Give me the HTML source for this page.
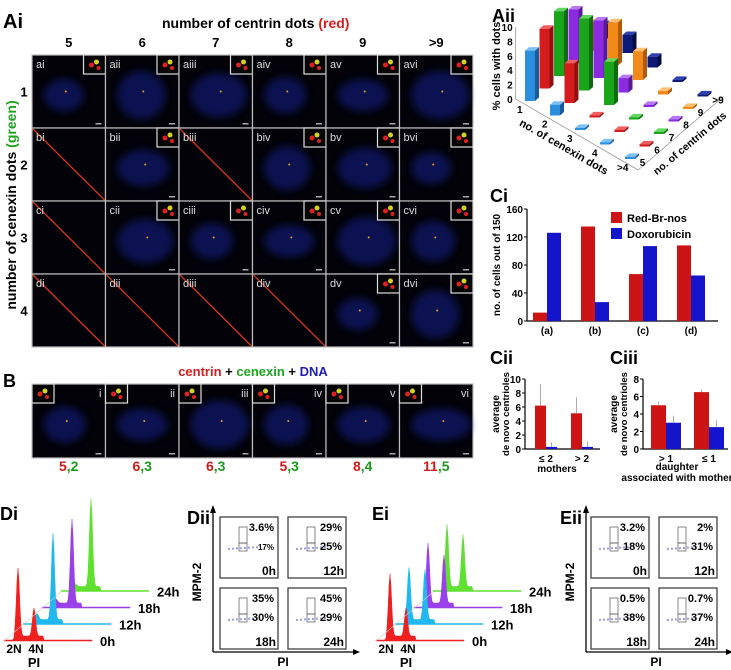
<!DOCTYPE html>
<html><head><meta charset="utf-8"><style>
html,body{margin:0;padding:0;background:#fff;}
svg{display:block;font-family:"Liberation Sans",Arial,sans-serif;}
</style></head><body>
<svg id="fig" width="731" height="670" viewBox="0 0 731 670" xmlns="http://www.w3.org/2000/svg">
<defs>
<filter id="blur" x="-40%" y="-40%" width="180%" height="180%"><feGaussianBlur stdDeviation="4"/></filter>
</defs>
<g id="gridA">
<text x="3" y="28" font-size="20" font-weight="bold">Ai</text>
<text x="162" y="28" font-size="14" font-weight="bold">number of centrin dots <tspan fill="#d71d1d">(red)</tspan></text>
<text transform="translate(16,205) rotate(-90)" text-anchor="middle" font-size="14" font-weight="bold">number of cenexin dots <tspan fill="#1fa31f">(green)</tspan></text>
</g>
<g id="gridB">
<text x="3" y="387" font-size="18" font-weight="bold">B</text>
<text x="253" y="376" text-anchor="middle" font-size="13" font-weight="bold"><tspan fill="#d71d1d">centrin</tspan> + <tspan fill="#1fa31f">cenexin</tspan> + <tspan fill="#1f1fb8">DNA</tspan></text>
</g>
<g id="aii">
<text x="492" y="22" font-size="18" font-weight="bold">Aii</text>
</g>
<g id="ci"></g>
<g id="cii"></g>
<g id="ciii"></g>
<g id="di"></g>
<g id="dii"></g>
<g id="ei"></g>
<g id="eii"></g>
</svg>
<script>
// ---- data ----
const centrinCats = ['5','6','7','8','9','>9'];
const cenexinCats = ['1','2','3','4'];
const emptyCells = ['bi','biii','ci','di','dii','diii','div'];
const bLabelsRed = ['5','6','6','5','8','11'];
const bLabelsGreen = ['2','3','3','3','4','5'];
const aiiCenexin = ['1','2','3','4','>4'];
const aiiCentrin = ['5','6','7','8','9','>9'];
const aiiRow1 = [7, 8.3, 9, 7.5, 4, 2];
const aiiRow2 = [1.5, 5.5, 10, 8, 6, 2.5];
const aiiRow3 = [0.3, 0.3, 6, 2, 4, 1.5];
const aiiRow4 = [0.3, 0.3, 0.3, 0.3, 0.5, 0.3];
const aiiRow5 = [0.3, 0.3, 0.3, 0.3, 0.3, 0.3];
const ciCats = ['(a)','(b)','(c)','(d)'];
const ciRed = [12, 135, 67, 108];
const ciBlue = [126, 27, 107, 65];
const ciTicks = [0, 40, 80, 120, 160];
const ciiCats = ['≤ 2','> 2'];
const ciiRed = [6.2, 5.1];
const ciiRedErr = [3.1, 2.3];
const ciiBlue = [0.3, 0.3];
const ciiBlueErr = [0.7, 0.8];
const ciiTicks = [0, 2, 4, 6, 8, 10];
const ciiiCats = ['> 1','≤ 1'];
const ciiiRed = [5.0, 6.5];
const ciiiRedErr = [0.4, 0.3];
const ciiiBlue = [3.0, 2.5];
const ciiiBlueErr = [0.8, 0.8];
const ciiiTicks = [0, 2, 4, 6, 8];
const timeLabels = ['0h','12h','18h','24h'];
const dG1 = [68, 6, 4, 3];
const dG2 = [28, 86, 84, 88];
const eG1 = [62, 52, 60, 62];
const eG2 = [28, 50, 48, 52];
const diiTop = ['3.6%','29%','35%','45%'];
const diiBot = ['17%','25%','30%','29%'];
const eiiTop = ['3.2%','2%','0.5%','0.7%'];
const eiiBot = ['18%','31%','38%','37%'];

const NS='http://www.w3.org/2000/svg';
function mk(parent,tag,attrs,text){const e=document.createElementNS(NS,tag);for(const k in attrs)e.setAttribute(k,attrs[k]);if(text!==undefined)e.textContent=text;parent.appendChild(e);return e;}

// ---- Ai grid ----
const gA=document.getElementById('gridA');
const roman=['i','ii','iii','iv','v','vi'];
const rowL=['a','b','c','d'];
const CW=73.5, CH=73, GX=32, GY=55;
centrinCats.forEach((c,j)=>{
  const t=mk(gA,'text',{x:GX+CW*j+CW/2,y:47,'text-anchor':'middle','font-size':13,'font-weight':'bold'},c);
  
  
});
cenexinCats.forEach((c,i)=>{
  const t=mk(gA,'text',{x:24,y:GY+CH*i+CH/2+5,'text-anchor':'middle','font-size':13,'font-weight':'bold'},c);
  
  
});
function cell(parent,x,y,w,h,label,empty,seed,inB){
  const g=mk(parent,'g',{});
  
  
  mk(g,'rect',{x:x,y:y,width:w,height:h,fill:'#020208',stroke:'#bdbdbd','stroke-width':1.2});
  if(empty){
    mk(g,'line',{x1:x+1,y1:y+1,x2:x+w-1,y2:y+h-1,stroke:'#d8341c','stroke-width':1.3});
  } else {
    const r=(seed*37)%11;
    mk(g,'ellipse',{cx:x+w*0.5+r-5,cy:y+h*0.55,rx:20+r,ry:16+(r%5)*2,fill:'#18209a',opacity:0.5,filter:'url(#blur)'});
    mk(g,'circle',{cx:x+w*0.5+r-3,cy:y+h*0.5,r:1,fill:'#e8a020'});
    const ix=inB?x:x+w-22, iy=y;
    mk(g,'rect',{x:ix,y:iy,width:22,height:19,fill:'#050505',stroke:'#ddd','stroke-width':1.2});
    mk(g,'circle',{cx:ix+8,cy:iy+10,r:2.5,fill:'#e02020'});
    mk(g,'circle',{cx:ix+13,cy:iy+7,r:2.5,fill:'#d8d020'});
    mk(g,'circle',{cx:ix+15,cy:iy+13,r:2,fill:'#e02020'});
    mk(g,'rect',{x:x+w-10,y:y+h-5,width:6,height:1.5,fill:'#aaa'});
  }
  mk(g,'text',{x:inB?x+w-4:x+4,y:y+13,'text-anchor':inB?'end':'start','font-size':11,fill:'#ddd'},label);
}
cenexinCats.forEach((c,i)=>{centrinCats.forEach((cc,j)=>{
  const lab=rowL[i]+roman[j];
  cell(gA,GX+CW*j,GY+CH*i,CW,CH,lab,emptyCells.includes(lab),i*6+j,false);
});});
// ---- B row ----
const gB=document.getElementById('gridB');
roman.forEach((r,j)=>{
  cell(gB,GX+CW*j,384,CW,74,r,false,j+3,true);
  const t=mk(gB,'text',{x:GX+CW*j+CW/2,y:471,'text-anchor':'middle','font-size':14,'font-weight':'bold'});
  
  
  mk(t,'tspan',{fill:'#d01c1c'},bLabelsRed[j]);
  mk(t,'tspan',{fill:'#1a9a1a'},','+bLabelsGreen[j]);
});
// ---- Aii 3D bars ----
const g2=document.getElementById('aii');
const rows=[aiiRow1,aiiRow2,aiiRow3,aiiRow4,aiiRow5];
const colors=['#2b8fe0','#d41c1c','#1aa51a','#8a2be2','#f28a1a','#0c1a78'];
const dark=['#1a5c98','#8e1010','#0f6b0f','#5a1a98','#b05a08','#050c40'];
const light=['#7cc0f4','#f06060','#60d860','#b878f4','#ffc070','#3040b0'];
const O={x:530,y:101}, U={x:25,y:14.5}, V={x:14.5,y:-12.5}, S=7.2;
function P(i,j){return {x:O.x+U.x*i+V.x*j,y:O.y+U.y*i+V.y*j};}
const a0=P(-0.4,-0.3), a1=P(4.5,-0.3), a2=P(4.5,5.6);
mk(g2,'line',{x1:a0.x,y1:a0.y,x2:a1.x,y2:a1.y,stroke:'#999','stroke-width':0.8});
mk(g2,'line',{x1:a1.x,y1:a1.y,x2:a2.x,y2:a2.y,stroke:'#999','stroke-width':0.8});
mk(g2,'line',{x1:a0.x,y1:a0.y,x2:a0.x,y2:a0.y-10*S,stroke:'#999','stroke-width':0.8});
[0,2,4,6,8,10].forEach(v=>{
  const t=mk(g2,'text',{x:a0.x-3,y:a0.y-v*S+4,'text-anchor':'end','font-size':10,'font-weight':'bold'},String(v));
  
  
});
aiiCenexin.forEach((c,i)=>{const p=P(i,-0.55);
  const t=mk(g2,'text',{x:p.x-5,y:p.y+5,'font-size':10,'font-weight':'bold'},c);
  
  });
aiiCentrin.forEach((c,j)=>{const p=P(4.35,j);
  const t=mk(g2,'text',{x:p.x+1,y:p.y+2,'font-size':10,'font-weight':'bold'},c);
  
  });
mk(g2,'text',{transform:'translate(500,66) rotate(-90)','text-anchor':'middle','font-size':11,'font-weight':'bold',},'% cells with dots');
mk(g2,'text',{transform:'translate(562,150) rotate(30)','text-anchor':'middle','font-size':11,'font-weight':'bold',},'no. of cenexin dots');
mk(g2,'text',{transform:'translate(692,146) rotate(-40)','text-anchor':'middle','font-size':10.5,'font-weight':'bold',},'no. of centrin dots');
for(let j=5;j>=0;j--){for(let i=0;i<5;i++){
  const v=rows[i][j]; const b=P(i,j); const h=v*S; const w=10, dx=4, dy=-3.5;
  const x=b.x-w/2, y=b.y;
  const bar=mk(g2,'g',{});
  
  
  mk(bar,'polygon',{points:`${x+w},${y} ${x+w+dx},${y+dy} ${x+w+dx},${y+dy-h} ${x+w},${y-h}`,fill:dark[j]});
  mk(bar,'polygon',{points:`${x},${y-h} ${x+w},${y-h} ${x+w+dx},${y-h+dy} ${x+dx},${y-h+dy}`,fill:light[j]});
  mk(bar,'rect',{x:x,y:y-h,width:w,height:h,fill:colors[j]});
}}
// ---- bar chart helper ----
function barChart(g,cfg){
  const {x0,y0,y1,x1,max,ticks,cats,red,blue,redErr,blueErr,bw,catX,title,tx,ty,ylab}=cfg;
  const Y=v=>y0-(v/max)*(y0-y1);
  mk(g,'text',{x:tx,y:ty,'font-size':18,'font-weight':'bold'},title);
  mk(g,'line',{x1:x0,y1:y1,x2:x0,y2:y0,stroke:'#000','stroke-width':1.2});
  mk(g,'line',{x1:x0,y1:y0,x2:x1,y2:y0,stroke:'#000','stroke-width':1.2});
  ticks.forEach(t=>{mk(g,'line',{x1:x0-3,y1:Y(t),x2:x0,y2:Y(t),stroke:'#000'});
    const e=mk(g,'text',{x:x0-4,y:Y(t)+4,'text-anchor':'end','font-size':10,'font-weight':'bold'},String(t));
    
    });
  cats.forEach((c,k)=>{const cx=catX(k);
    const e=mk(g,'text',{x:cx,y:y0+13,'text-anchor':'middle','font-size':10,'font-weight':'bold'},c);
    
    
    const r=mk(g,'rect',{x:cx-bw,y:Y(red[k]),width:bw,height:y0-Y(red[k]),fill:'#cc1414'});
    
    
    const b=mk(g,'rect',{x:cx,y:Y(blue[k]),width:bw,height:y0-Y(blue[k]),fill:'#1414cc'});
    
    
    if(redErr){mk(g,'line',{x1:cx-bw/2,y1:Y(red[k]+redErr[k]),x2:cx-bw/2,y2:Y(red[k]),stroke:'#999','stroke-width':0.8});
      mk(g,'line',{x1:cx+bw/2,y1:Y(blue[k]+blueErr[k]),x2:cx+bw/2,y2:Y(blue[k]),stroke:'#999','stroke-width':0.8});}
  });
  ylab.forEach(l=>mk(g,'text',{transform:`translate(${l.x},${l.y}) rotate(-90)`,'text-anchor':'middle','font-size':l.fs||10,'font-weight':'bold'},l.t));
}
barChart(document.getElementById('ci'),{x0:527,y0:321,y1:209,x1:718,max:160,ticks:ciTicks,cats:ciCats,red:ciRed,blue:ciBlue,bw:14,catX:k=>547+k*48,title:'Ci',tx:490,ty:202,ylab:[{x:500,y:265,t:'no. of cells out of 150'}]});
const gci=document.getElementById('ci');
mk(gci,'rect',{x:611,y:212,width:11,height:11,fill:'#cc1414',});
mk(gci,'text',{x:627,y:222,'font-size':11,'font-weight':'bold',},'Red-Br-nos');
mk(gci,'rect',{x:611,y:228,width:11,height:11,fill:'#1414cc',});
mk(gci,'text',{x:627,y:238,'font-size':11,'font-weight':'bold',},'Doxorubicin');
barChart(document.getElementById('cii'),{x0:525,y0:449,y1:379,x1:600,max:10,ticks:ciiTicks,cats:ciiCats,red:ciiRed,blue:ciiBlue,redErr:ciiRedErr,blueErr:ciiBlueErr,bw:11,catX:k=>546+k*36,title:'Cii',tx:490,ty:364,ylab:[{x:499,y:414,t:'average'},{x:509,y:414,t:'de novo centrioles',fs:9.5}]});
mk(document.getElementById('cii'),'text',{x:557,y:472,'text-anchor':'middle','font-size':10,'font-weight':'bold'},'mothers');
barChart(document.getElementById('ciii'),{x0:643,y0:449,y1:379,x1:728,max:8,ticks:ciiiTicks,cats:ciiiCats,red:ciiiRed,blue:ciiiBlue,redErr:ciiiRedErr,blueErr:ciiiBlueErr,bw:15,catX:k=>666+k*43,title:'Ciii',tx:610,ty:364,ylab:[{x:617,y:414,t:'average'},{x:627,y:414,t:'de novo centrioles',fs:9.5}]});
mk(document.getElementById('ciii'),'text',{x:677,y:470,'text-anchor':'middle','font-size':10,'font-weight':'bold'},'daughter');
mk(document.getElementById('ciii'),'text',{x:677,y:481,'text-anchor':'middle','font-size':10,'font-weight':'bold'},'associated with mother');
// ---- histograms ----
const hcol=['#ee2020','#20b8ee','#9a40e8','#60e030'];
function hist(g,ox,oy,g1,g2,lab){
  mk(g,'text',{x:ox,y:oy-120,'font-size':18,'font-weight':'bold'},lab);
  for(let t=3;t>=0;t--){
    const bx=ox+4+t*19, by=oy+1-t*16.5, W=88;
    const G1x=bx+14, G2x=bx+30;
    let d=`M${bx},${by}`;
    for(let x=0;x<=W;x+=1){
      const X=bx+x;
      const h=g1[t]*Math.exp(-Math.pow((X-G1x)/2.2,2))+g2[t]*Math.exp(-Math.pow((X-G2x)/2.2,2))+(X>G1x-4&&X<G2x+10?5:1);
      d+=` L${X},${by-h}`;
    }
    d+=` L${bx+W},${by} Z`;
    const p=mk(g,'path',{d:d,fill:hcol[t],stroke:hcol[t],'stroke-width':0.5});
    
    
    mk(g,'text',{x:bx+W+8,y:by+5,'font-size':13,'font-weight':'bold'},timeLabels[t]);
  }
  mk(g,'line',{x1:ox+4,y1:oy+1,x2:ox+61,y2:oy-48,stroke:'#ccc','stroke-width':0.6});
  mk(g,'text',{x:ox+14,y:oy+13,'text-anchor':'middle','font-size':12,'font-weight':'bold'},'2N');
  mk(g,'text',{x:ox+36,y:oy+13,'text-anchor':'middle','font-size':12,'font-weight':'bold'},'4N');
  mk(g,'text',{x:ox+34,y:oy+27,'text-anchor':'middle','font-size':13,'font-weight':'bold'},'PI');
}
hist(document.getElementById('di'),0,640,dG1,dG2,'Di');
hist(document.getElementById('ei'),372,640,eG1,eG2,'Ei');
function facs(g,ax,top,bot,lab,bx1,bx2){
  mk(g,'text',{x:ax-26,y:524,'font-size':18,'font-weight':'bold'},lab);
  mk(g,'line',{x1:ax,y1:652,x2:ax,y2:512,stroke:'#000','stroke-width':1.3});
  mk(g,'polygon',{points:`${ax-3},${513} ${ax+3},${513} ${ax},${505}`});
  mk(g,'line',{x1:ax,y1:652,x2:ax+140,y2:652,stroke:'#000','stroke-width':1.3});
  mk(g,'polygon',{points:`${ax+140},${649} ${ax+140},${655} ${ax+147},${652}`});
  mk(g,'text',{transform:`translate(${ax-12},582) rotate(-90)`,'text-anchor':'middle','font-size':12,'font-weight':'bold'},'MPM-2');
  mk(g,'text',{x:ax+70,y:666,'text-anchor':'middle','font-size':12,'font-weight':'bold'},'PI');
  for(let k=0;k<4;k++){
    const x=k%2?bx2:bx1, y=k<2?517:588;
    const b=mk(g,'g',{});
    
    
    mk(b,'rect',{x:x,y:y,width:58,height:61,fill:'#fff',stroke:'#333','stroke-width':1.2});
    mk(b,'rect',{x:x+19,y:y+10,width:8,height:16,fill:'none',stroke:'#555','stroke-width':0.7});
    mk(b,'rect',{x:x+19,y:y+26,width:8,height:8,fill:'none',stroke:'#555','stroke-width':0.7});
    mk(b,'line',{x1:x+8,y1:y+32,x2:x+40,y2:y+30,stroke:'#9aa0e0','stroke-width':2,'stroke-dasharray':'2 2'});
    mk(b,'text',{x:x+54,y:y+14,'text-anchor':'end','font-size':11,'font-weight':'bold'},top[k]);
    mk(b,'text',{x:x+54,y:y+33,'text-anchor':'end','font-size':k==0&&lab=='Dii'?8:11,'font-weight':'bold'},bot[k]);
    mk(b,'text',{x:x+56,y:y+58,'text-anchor':'end','font-size':12,'font-weight':'bold'},timeLabels[k]);
  }
}
facs(document.getElementById('dii'),213,diiTop,diiBot,'Dii',220,288);
facs(document.getElementById('eii'),586,eiiTop,eiiBot,'Eii',591,659);
</script>
</body></html>
